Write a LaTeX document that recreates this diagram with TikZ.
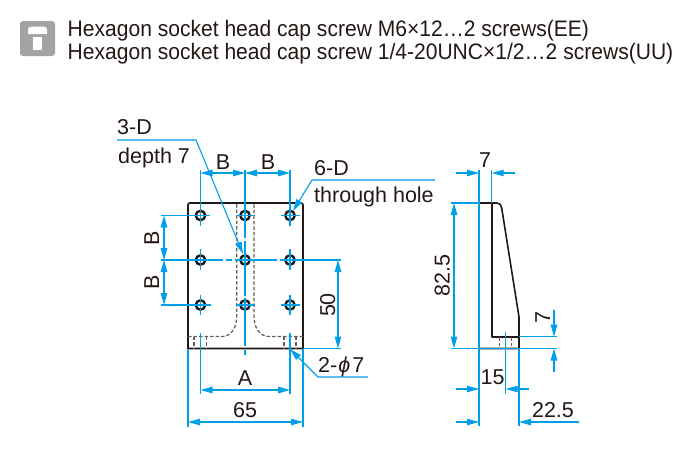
\documentclass[tikz,border=0pt]{standalone}
\usepackage{fontspec}
\setmainfont{Liberation Sans}
\usetikzlibrary{arrows.meta}
\definecolor{dimblue}{HTML}{00A0E9}
\definecolor{ink}{HTML}{231815}
\definecolor{badge}{HTML}{A3A3A3}
\tikzset{
  tp/.tip={Triangle[length=12pt,width=6.5pt,fill=dimblue]},
  dimline/.style={draw=dimblue,line width=1.1pt},
  tipped/.style={dimline,-tp},
  both/.style={dimline,tp-tp},
  body/.style={draw=ink,line width=1.6pt,line join=round},
  hidden/.style={draw=ink!70,line width=1.2pt,dash pattern=on 3.5pt off 2pt},
  hole/.style={draw=ink,line width=2.4pt,fill=none},
  lab/.style={text=ink,font=\fontsize{21.5}{21.5}\selectfont,inner sep=0pt},
  head/.style={text=ink,font=\fontsize{22.4}{22.4}\selectfont,inner sep=0pt,anchor=base west},
}
\begin{document}
\begin{tikzpicture}[x=1pt,y=-1pt]
\useasboundingbox (0,0) rectangle (695,450);
% badge
\fill[badge,rounded corners=3pt] (20,21) rectangle (55,56);
\fill[white] (28,34) -- (28,30) .. controls (28,27.5) and (29,26.7) .. (31,26.7) -- (44,26.7) .. controls (46,26.7) and (47,27.5) .. (47,30) -- (47,34) -- cycle;
\fill[white] (33,36.7) rectangle (42,50);
\node[head] (h1) at (67.5,36) {\scalebox{0.94}[1]{Hexagon socket head cap screw M6×12…2 screws(EE)}};
\node[head] (h2) at (67.5,59) {\scalebox{0.94}[1]{Hexagon socket head cap screw 1/4-20UNC×1/2…2 screws(UU)}};

% front view
\draw[body] (188,348.5) -- (188,205) .. controls (188,203.7) and (188.7,203) .. (190,203) -- (301,203) .. controls (302.3,203) and (303,203.7) .. (303,205) -- (303,348.5) -- cycle;
\draw[hidden] (188,336.5) -- (222,336.5) .. controls (231,336.5) and (236.7,328) .. (236.7,316) -- (236.7,203);
\draw[hidden] (303,336.5) -- (269,336.5) .. controls (260,336.5) and (254,328) .. (254,316) -- (254,203);
\foreach \x in {194,206.7,284,296} \draw[hidden] (\x,336.5) -- (\x,348);
\foreach \x in {200.5,245,290} \foreach \y in {215.5,260,305}
  \draw[hole] (\x,\y) circle (4.7pt);
% centre lines
\foreach \a/\b in {161/223,226/232,235/277,280/341} \draw[dimline] (\a,260) -- (\b,260);
\draw[dimline] (161,215.5) -- (210,215.5);
\draw[dimline] (161,305) -- (211,305);
\draw[dimline] (236,215.5) -- (255,215.5);
\draw[dimline] (236,305) -- (255,305);
\draw[dimline] (281,215.5) -- (300,215.5);
\draw[dimline] (281,305) -- (300,305);
\draw[dimline] (200.5,170) -- (200.5,226);
\draw[dimline] (200.5,249) -- (200.5,270);
\draw[dimline] (200.5,295) -- (200.5,315);
\draw[dimline] (200.5,333) -- (200.5,394);
\draw[dimline] (245,170) -- (245,238);
\draw[dimline] (245,241) -- (245,296);
\draw[dimline] (245,298) -- (245,346);
\draw[dimline] (245,350) -- (245,355);
\draw[dimline] (290,170) -- (290,226);
\draw[dimline] (290,249) -- (290,270);
\draw[dimline] (290,295) -- (290,315);
\draw[dimline] (290,333) -- (290,394);
\draw[dimline] (188,348.5) -- (188,427);
\draw[dimline] (303,348.5) -- (303,427);
\draw[dimline] (303,348.5) -- (341,348.5);
% dims
\draw[tipped] (223,173) -- (200.5,173);
\draw[tipped] (223,173) -- (245,173);
\draw[tipped] (268,173) -- (245,173);
\draw[tipped] (268,173) -- (290,173);
\draw[both] (164,215.5) -- (164,260);
\draw[both] (164,260) -- (164,305);
\draw[both] (338,260) -- (338,348.5);
\draw[both] (200.5,390) -- (290,390);
\draw[both] (188,422) -- (303,422);
% leaders
\draw[tipped] (117,140) -- (196,140) -- (243,254);
\draw[tipped] (435,180) -- (312,180) -- (293,211);
\draw[tipped] (368,377) -- (318,377) -- (290,349);
% labels
\node[lab,anchor=base west] (d3) at (117,134) {3-D};
\node[lab,anchor=base west] (dp) at (118,163) {depth 7};
\node[lab,anchor=base] (b1) at (223,169) {B};
\node[lab,anchor=base] (b2) at (268,169) {B};
\node[lab,anchor=base west] (d6) at (314,175) {6-D};
\node[lab,anchor=base west] (th) at (314,202) {through hole};
\node[lab,anchor=base,rotate=90] (b3) at (159,238) {B};
\node[lab,anchor=base,rotate=90] (b4) at (159,282.5) {B};
\node[lab,anchor=base,rotate=90] (n50) at (335,305) {50};
\node[lab,anchor=base] (a) at (245,385) {A};
\node[lab,anchor=base] (n65) at (245,417) {65};
\node[lab,anchor=base west] (ph) at (318,372) {2-\kern1pt{\itshape ϕ}\kern2pt7};

% side view
\draw[body] (479,348.5) -- (479,203) -- (497,203) .. controls (500,203) and (501,205) .. (501.7,208) -- (519,317) -- (519,348.5) -- cycle;
\draw[body] (491.7,203) -- (491.7,336.7) -- (519,336.7);
\draw[hidden] (499.3,337) -- (499.3,348);
\draw[hidden] (511.7,337) -- (511.7,348);
\draw[dimline] (479,170) -- (479,426);
\draw[dimline] (491.7,170) -- (491.7,203);
\draw[dimline] (505.7,332) -- (505.7,394);
\draw[dimline] (519,348.5) -- (519,426);
\draw[dimline] (451,203) -- (479,203);
\draw[dimline] (451,348.5) -- (557,348.5);
\draw[dimline] (519,336.7) -- (557,336.7);
\draw[tipped] (456,173) -- (479,173);
\draw[tipped] (515,173) -- (491.7,173);
\draw[both] (454,203) -- (454,348.5);
\draw[tipped] (554,310) -- (554,336.7);
\draw[tipped] (554,372) -- (554,348.5);
\draw[tipped] (456,389) -- (479,389);
\draw[tipped] (529,389) -- (505.7,389);
\draw[tipped] (456,422) -- (479,422);
\draw[tipped] (579,422) -- (519,422);
\node[lab,anchor=base] (s7) at (485,167) {7};
\node[lab,anchor=base,rotate=90] (s825) at (449.5,275.5) {82.5};
\node[lab,anchor=base,rotate=90] (s7b) at (550,318) {7};
\node[lab,anchor=base] (s15) at (492.5,384) {15};
\node[lab,anchor=base] (s225) at (553,417) {22.5};
\end{tikzpicture}
\end{document}
